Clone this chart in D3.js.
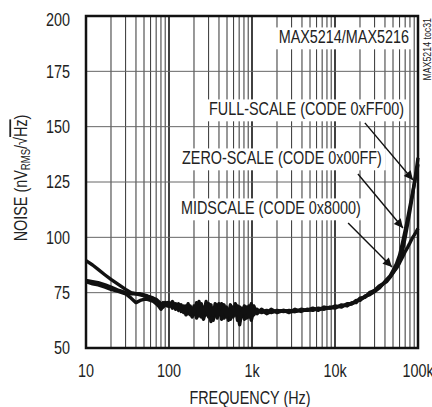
<!DOCTYPE html>
<html>
<head>
<meta charset="utf-8">
<script src="https://cdn.jsdelivr.net/npm/d3@7"></script>
<style>
  body { margin: 0; background: #fff; }
  text { font-family: "Liberation Sans", Arial, sans-serif; fill: #222; }
</style>
</head>
<body>
<script>
// frequencies (Hz) shared by the three traces
var freqs = [10, 12, 14, 17, 20, 25, 30, 35, 40, 45, 50, 55, 60, 65, 70, 75, 80, 85, 90, 95,
  100, 110, 120, 130, 140, 150, 160, 170, 180, 190, 200, 215, 230, 245, 260, 280, 300, 320, 340, 360,
  380, 400, 430, 460, 490, 520, 550, 590, 630, 670, 710, 760, 810, 860, 920, 980, 1050, 1150, 1300, 1500,
  1700, 2000, 2400, 2800, 3300, 3900, 4600, 5400, 6300, 7400, 8700, 10000, 12000, 14000, 16000, 18000, 20000, 23000, 26000, 30000,
  34000, 38000, 42000, 46000, 50000, 55000, 60000, 65000, 70000, 75000, 80000, 85000, 90000, 95000, 100000]

var fullScale = [89.5, 87.5, 85.5, 83, 81, 78.5, 76.5, 75, 74.5, 74, 73.5, 73, 72.5, 72, 71, 70, 69, 70.5, 69.5, 70.5,
  69, 71, 68.5, 69.5, 67.5, 69, 66.5, 70, 65, 68, 66, 70.5, 64.5, 68, 65.5, 71, 64, 67.5, 65, 70,
  63.5, 67, 65, 69.5, 64, 67.5, 63, 68.5, 65, 69, 62, 67, 65.5, 68.5, 64, 70, 65, 67.5, 66, 67,
  66, 67, 66.5, 67, 66.5, 67.5, 67, 67.5, 67.5, 68, 68, 68.5, 69, 69.5, 70, 71, 72, 73, 74.5, 76,
  77.5, 79, 80.5, 82, 84, 86.5, 89.5, 94, 100, 106, 112, 118, 124, 130, 136]

var zeroScale = [80.5, 80, 79.5, 78.5, 77.5, 76, 75, 74.5, 74.5, 74.5, 74, 73.5, 73, 72.5, 72, 71, 70, 68.5, 70, 69,
  70.5, 68, 70, 67, 69.5, 66, 69, 65.5, 68.5, 64.5, 69, 66, 71, 64, 68.5, 65, 70, 62, 68, 64.5,
  69.5, 65, 70, 63.5, 68, 65, 69.5, 64, 68, 62.5, 68.5, 64.5, 69, 63.5, 68, 64, 69, 65.5, 67.5, 66,
  67.5, 66, 67, 66, 67.5, 66.5, 67.5, 67, 68, 67.5, 68.5, 68, 69.5, 69, 70.5, 70.5, 72.5, 73, 75, 76,
  78, 79, 81, 82.5, 85, 88, 92, 97.5, 103, 108.5, 114, 119, 124, 128.5, 133]

var midScale = [80, 79, 78.5, 77.5, 76.5, 75.5, 74.5, 72.5, 70.5, 71.5, 72, 72, 71.5, 71, 70, 69, 67.5, 69, 70.5, 69.5,
  69, 70.5, 67.5, 70, 66.5, 68.5, 65, 67.5, 69, 64, 67.5, 63.5, 68, 70, 63, 67, 66, 69.5, 62.5, 66.5,
  65, 70, 63, 66.5, 68.5, 62.5, 66, 64.5, 70, 66, 60.5, 68, 63, 66, 69, 62.5, 67, 66, 67, 65.5,
  66.5, 66.5, 67, 66.5, 66.5, 67, 67, 68, 67, 68.5, 68, 69, 68.5, 70, 70, 71.5, 71.5, 73.5, 74, 75.5,
  77, 79, 80, 82, 84, 86, 88.5, 91, 93.5, 95.5, 97.5, 99.5, 101, 102.5, 104]

var xTicks = [10, 100, 1000, 10000, 100000]
var xTickLabels = ['10', '100', '1k', '10k', '100k']
var yTicks = [50, 75, 100, 125, 150, 175, 200]

var width = 432
var height = 407
var margin = { left: 86, top: 16, right: 14, bottom: 59 }
var innerWidth = width - margin.left - margin.right
var innerHeight = height - margin.top - margin.bottom
var squeeze = 0.8

var svg = d3.select('body').append('svg').attr('width', width).attr('height', height)
var g = svg.append('g').attr('transform', `translate(${margin.left},${margin.top})`)

var x = d3.scaleLog().domain([10, 100000]).range([0, innerWidth])
var y = d3.scaleLinear().domain([50, 200]).range([innerHeight, 0])

// condensed text: a group that is squeezed horizontally
const addText = (parent, tx, ty, str, anchor, size, rot) => {
  var grp = parent.append('g')
    .attr('transform', `translate(${tx},${ty})` + (rot ? ` rotate(${rot})` : '') + ` scale(${squeeze},1)`)
  var t = grp.append('text').attr('text-anchor', anchor).attr('font-size', size)
  if (str) t.text(str)
  return t
}

// grid
g.append('g').selectAll('line').data(x.ticks()).enter().append('line')
  .attr('x1', d => x(d)).attr('x2', d => x(d)).attr('y1', 0).attr('y2', innerHeight)
  .attr('stroke', d => xTicks.includes(d) ? '#111' : '#333')
  .attr('stroke-width', d => xTicks.includes(d) ? 1.6 : 1)
g.append('g').selectAll('line').data(yTicks).enter().append('line')
  .attr('x1', 0).attr('x2', innerWidth).attr('y1', d => y(d)).attr('y2', d => y(d))
  .attr('stroke', '#666').attr('stroke-width', 1)

// labels with white boxes that cut the grid
var notes = [
  { text: 'MAX5214/MAX5216', x: 323, y: 27, anchor: 'end' },
  { text: 'FULL-SCALE (CODE 0xFF00)', x: 123, y: 99, anchor: 'start' },
  { text: 'ZERO-SCALE (CODE 0x00FF)', x: 96, y: 148, anchor: 'start' },
  { text: 'MIDSCALE (CODE 0x8000)', x: 95, y: 198, anchor: 'start' }
]
notes.forEach(n => {
  var t = addText(g, n.x, n.y, n.text, n.anchor, 18)
  var b = t.node().getBBox()
  d3.select(t.node().parentNode).insert('rect', 'text').attr('fill', '#fff')
    .attr('x', b.x - 5).attr('y', b.y + 1).attr('width', b.width + 10).attr('height', b.height + 2)
})

// traces
var line = d3.line().x((d, i) => x(freqs[i])).y(d => y(d))
;[midScale, zeroScale, fullScale].forEach(s => {
  g.append('path').datum(s).attr('d', line).attr('fill', 'none')
    .attr('stroke', '#111').attr('stroke-width', 3.4).attr('stroke-linejoin', 'round')
})

// arrows from the labels to the traces
svg.append('defs').append('marker').attr('id', 'ah').attr('viewBox', '0 0 10 10')
  .attr('refX', 10).attr('refY', 5).attr('markerWidth', 14).attr('markerHeight', 9)
  .attr('markerUnits', 'userSpaceOnUse').attr('orient', 'auto')
  .append('path').attr('d', 'M0,0L10,5L0,10Z').attr('fill', '#111')
var arrows = [
  { f0: 22900, v0: 151.7, f1: 87000, v1: 125.9 },
  { f0: 18900, v0: 128.6, f1: 65900, v1: 104.2 },
  { f0: 14400, v0: 106.5, f1: 48600, v1: 86.6 }
]
g.append('g').selectAll('line').data(arrows).enter().append('line')
  .attr('x1', d => x(d.f0)).attr('y1', d => y(d.v0))
  .attr('x2', d => x(d.f1)).attr('y2', d => y(d.v1))
  .attr('stroke', '#111').attr('stroke-width', 1.4).attr('marker-end', 'url(#ah)')

// frame
g.append('rect').attr('width', innerWidth).attr('height', innerHeight)
  .attr('fill', 'none').attr('stroke', '#111').attr('stroke-width', 2.5)

// axes labels
yTicks.forEach(d => {
  addText(g, -16, y(d) + (d === 200 ? 4 : 0), String(d), 'end', 18).attr('dy', '0.36em')
})
xTicks.forEach((d, i) => {
  addText(g, x(d), innerHeight + 29, xTickLabels[i], 'middle', 18)
})

addText(svg, margin.left + innerWidth / 2 - 2, 404, 'FREQUENCY (Hz)', 'middle', 18)

var yl = addText(svg, 27, 178, null, 'middle', 18, -90)
yl.append('tspan').text('NOISE (nV')
yl.append('tspan').text('RMS').attr('font-size', 12).attr('dy', 3)
yl.append('tspan').text('/√').attr('dy', -3)
yl.append('tspan').text('Hz').style('text-decoration', 'overline')
yl.append('tspan').text(')')

addText(svg, 431, 18, 'MAX5214 toc31', 'end', 11, -90)
</script>
</body>
</html>
